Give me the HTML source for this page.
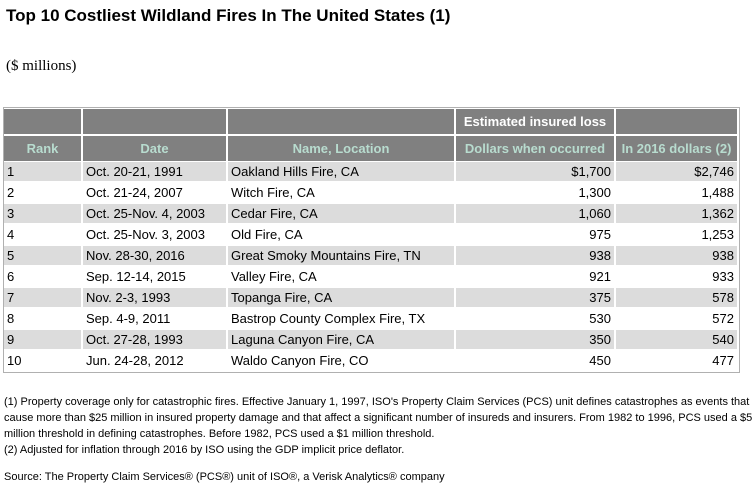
<!DOCTYPE html>
<html><head><meta charset="utf-8">
<style>
body{margin:0;width:755px;height:498px;background:#fff;position:relative;overflow:hidden;font-family:"Liberation Sans",Arial,sans-serif;color:#000}
.abs{position:absolute;white-space:nowrap}
#title{left:6px;top:6px;font-size:17px;font-weight:bold}
#unit{left:6px;top:58px;font-family:"Liberation Serif",serif;font-size:15px}
.cell{position:absolute;box-sizing:border-box;font-size:13px;line-height:21px;padding:0 3px;white-space:nowrap;overflow:hidden}
.hd{background:#808080;color:#b8dccf;font-weight:bold;text-align:center;font-size:13px;line-height:26px}
.note{font-size:11px;left:4px;line-height:16px}
</style></head><body>
<div id="title" class="abs">Top 10 Costliest Wildland Fires In The United States (1)</div>
<div id="unit" class="abs">($ millions)</div>
<div id="tbl" style="position:absolute;left:3px;top:107px;width:737px;height:266px;border:1px solid #b0b0b0;box-sizing:border-box;background:#fff"></div>
<div class="abs note" style="top:394px">(1) Property coverage only for catastrophic fires. Effective January 1, 1997, ISO's Property Claim Services (PCS) unit defines catastrophes as events that<br>cause more than $25 million in insured property damage and that affect a significant number of insureds and insurers. From 1982 to 1996, PCS used a $5<br>million threshold in defining catastrophes. Before 1982, PCS used a $1 million threshold.<br>(2) Adjusted for inflation through 2016 by ISO using the GDP implicit price deflator.</div>
<div class="abs note" style="top:469px">Source: The Property Claim Services® (PCS®) unit of ISO®, a Verisk Analytics® company</div>
<script>
const ranks=["1","2","3","4","5","6","7","8","9","10"];
const dates=["Oct. 20-21, 1991","Oct. 21-24, 2007","Oct. 25-Nov. 4, 2003","Oct. 25-Nov. 3, 2003","Nov. 28-30, 2016","Sep. 12-14, 2015","Nov. 2-3, 1993","Sep. 4-9, 2011","Oct. 27-28, 1993","Jun. 24-28, 2012"];
const names=["Oakland Hills Fire, CA","Witch Fire, CA","Cedar Fire, CA","Old Fire, CA","Great Smoky Mountains Fire, TN","Valley Fire, CA","Topanga Fire, CA","Bastrop County Complex Fire, TX","Laguna Canyon Fire, CA","Waldo Canyon Fire, CO"];
const lossWhen=["$1,700","1,300","1,060","975","938","921","375","530","350","450"];
const loss2016=["$2,746","1,488","1,362","1,253","938","933","578","572","540","477"];
const colX=[4,83,228,456,616,739];
const aligns=["left","left","left","right","right"];
function mk(x,y,w,h,cls,txt,name,extra){
  const d=document.createElement('div');
  d.className='cell '+cls;
  d.style.left=x+'px';d.style.top=y+'px';d.style.width=w+'px';d.style.height=h+'px';
  if(extra)Object.assign(d.style,extra);
  d.textContent=txt;
  
  
  document.body.appendChild(d);
}
for(let c=0;c<5;c++){
  const w=colX[c+1]-colX[c]-2;
  mk(colX[c],109,w,25,'hd',c==3?'Estimated insured loss':'', 'header-top-'+c,c==3?{color:'#fff'}:null);
}
const heads=["Rank","Date","Name, Location","Dollars when occurred","In 2016 dollars (2)"];
for(let c=0;c<5;c++){
  const w=colX[c+1]-colX[c]-2;
  mk(colX[c],136,w,25,'hd',heads[c],'column-header-'+c);
}
for(let r=0;r<ranks.length;r++){
  const y=162+r*21;
  const vals=[ranks[r],dates[r],names[r],lossWhen[r],loss2016[r]];
  for(let c=0;c<5;c++){
    const w=colX[c+1]-colX[c]-2;
    const ex={textAlign:aligns[c],background:r%2==0?'#dcdcdc':'#fff',height:'19px',lineHeight:'19px'};
    mk(colX[c],y,w,19,'',vals[c],'row-'+(r+1)+'-col-'+c,ex);
  }
}
</script>
</body></html>
